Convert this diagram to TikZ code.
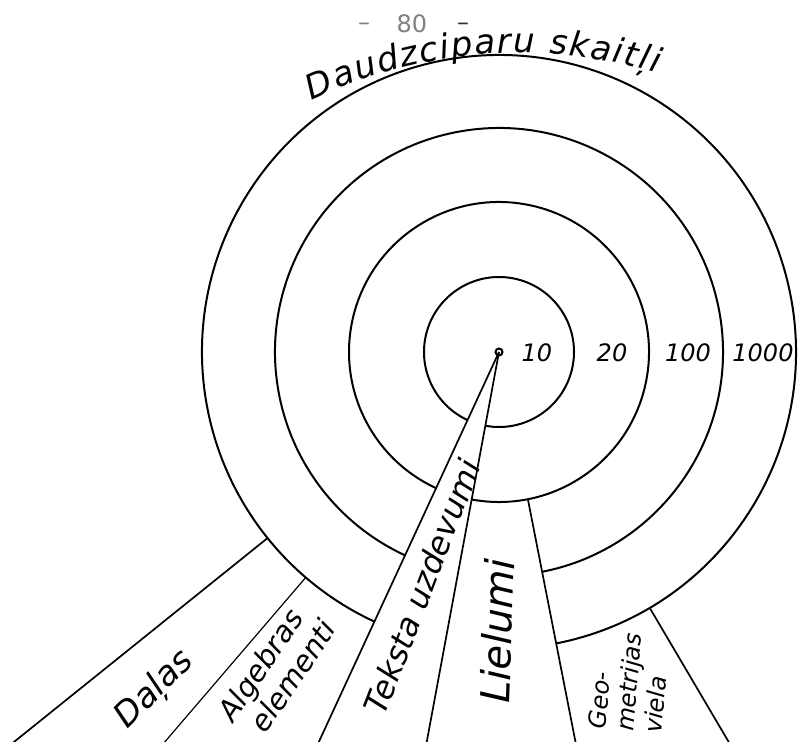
\documentclass[tikz,border=0pt]{standalone}
\usepackage{fontspec}
\setmainfont{DejaVu Sans}
\usetikzlibrary{decorations.text}

\begin{document}
\begin{tikzpicture}[x=1pt,y=1pt,
  ring/.style={line width=2pt},
  ray/.style={line width=1.7pt},
  num/.style={font=\itshape\fontsize{24}{26}\selectfont,inner sep=0pt},
  pagemark/.style={font=\fontsize{24}{26}\selectfont,inner sep=0pt},
  topic/.style={font=\itshape\fontsize{#1}{#1}\selectfont,inner sep=0pt}]
\useasboundingbox (0,0) rectangle (801,742);
\coordinate (o) at (499,390);

% page number
\node[pagemark,text=gray] (pageL) at (364,715) {–};
\node[pagemark,text=gray] (page) at (412,718) {80};
\node[pagemark,text=black!80] (pageR) at (463,715) {–};

% the four rings, open where the topics leave the centre
\draw[ring] (o) ++(259.5:75) arc[start angle=259.5,end angle=605.2,radius=75];
\draw[ring] (o) ++(259.5:150) arc[start angle=259.5,end angle=605.2,radius=150];
\draw[ring] (o) ++(281.0:224) arc[start angle=281.0,end angle=605.2,radius=224];
\draw[ring] (o) ++(281.1:297) arc[start angle=281.1,end angle=605.2,radius=297];
\draw[line width=2pt] (o) circle[radius=3.5];

% rays down to the bottom edge
\begin{scope}
\clip (0,0) rectangle (801,742);
\draw[ray] (o) ++(218.8:297) -- ++(218.8:500);
\draw[line width=1.2pt] (o) ++(229.4:297) -- ++(229.4:500);
\draw[ray] (o) -- ++(245.2:700);
\draw[ray] (o) -- ++(259.5:700);
\draw[ray] (o) ++(281.1:150) -- ++(281.1:500);
\draw[ray] (o) ++(300.5:297) -- ++(300.5:500);
\end{scope}

% ring values
\node[num] (n10) at (537,389) {10};
\node[num] (n20) at (612,389) {20};
\node[num] (n100) at (688,389) {100};
\node[num] (n1000) at (763,389) {1000};

% title over the outer ring
\path[decorate,decoration={text along path,text align=fit to path,
  text={|\itshape\fontsize{34}{38}\selectfont|Daudzciparu skaitļi}}]
  (519.5,208) ++(115.6:481) arc[start angle=115.6,end angle=73.4,radius=481];

% topics
\node[topic=34,rotate=45] (dalas) at (155,52) {Daļas};
\node[topic=29,rotate=56,align=center] (algebra) at (274,68) {Algebras\\[4pt]\hspace{18pt}elementi};
\node[topic=32,rotate=69] (teksts) at (422,155) {Teksta uzdevumi};
\node[topic=40,rotate=88] (lielumi) at (497,111) {Lielumi};
\node[topic=24,rotate=85,align=left] (geo) at (629,60) {Geo-\\[4pt]metrijas\\[4pt]viela};
\end{tikzpicture}
\end{document}
